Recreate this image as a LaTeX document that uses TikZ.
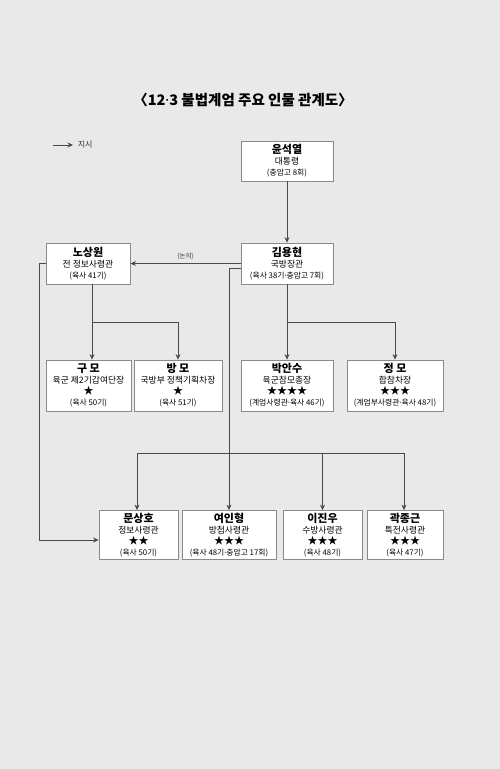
\documentclass[tikz,border=0pt]{standalone}
\usepackage{fontspec}
\setmainfont{Noto Sans CJK KR}
\newfontfamily\latinfont{Noto Sans}
\usetikzlibrary{arrows.meta,positioning,calc}
\definecolor{bgpaper}{HTML}{E9E9E9}
\definecolor{lineclr}{HTML}{4A4A4A}
\definecolor{boxline}{HTML}{8A8A8A}

\begin{document}
\begin{tikzpicture}[
  x=1pt,y=-1pt,
  >={Stealth[length=5.5pt,width=5pt]},
  person/.style={draw=boxline, line width=0.8pt, fill=white, inner sep=0pt, align=center, font=\fontsize{7.8}{11}\selectfont},
  link/.style={->, draw=lineclr, line width=0.85pt},
  wire/.style={draw=lineclr, line width=0.85pt},
  note/.style={font=\fontsize{6.5}{8}\selectfont, text=black!80}
]
\newcommand{\pname}[1]{{\fontsize{11}{11}\selectfont\bfseries #1}}
\newcommand{\prole}[1]{{\fontsize{8.8}{11}\selectfont #1}}
\newcommand{\pstar}[1]{{\fontsize{10}{11}\selectfont #1}}
\newcommand{\dotsep}{{\latinfont ·}}

% Background
\fill[bgpaper] (0,0) rectangle (500,769);
\useasboundingbox (0,0) rectangle (500,769);

% Title and legend
\node[font=\fontsize{14.5}{17}\selectfont\bfseries] (title) at (243,100) {〈12\dotsep 3 불법계엄 주요 인물 관계도〉};
\coordinate (lgA) at (53,145);
\coordinate (lgB) at (73,145);
\draw[link] (lgA) -- (lgB) node[right, note, font=\fontsize{8}{9}\selectfont, xshift=1pt] {지시};

% ================= Top rows =================
\node[person, minimum width=92pt, minimum height=40pt] (ysy) at (287,161)
  {\pname{윤석열}\\\prole{대통령}\\(충암고 8회)};
\node[person, minimum width=92pt, minimum height=41pt] (kyh) at (287,263.5)
  {\pname{김용현}\\\prole{국방장관}\\(육사 38기\dotsep 충암고 7회)};
\node[person, minimum width=84pt, minimum height=41pt] (nsw) at (88,263.5)
  {\pname{노상원}\\\prole{전 정보사령관}\\(육사 41기)};

\draw[link] (ysy) -- (kyh);
\draw[link] (kyh.west) -- node[note, above, pos=0.5] {(논의)} (nsw.east);

% ================= Middle row =================
\node[person, minimum width=85pt, minimum height=51pt] (gu) at (88.5,385.5)
  {\pname{구 모}\\\prole{육군 제2기갑여단장}\\\pstar{★}\\(육사 50기)};
\node[person, minimum width=88pt, minimum height=51pt] (bang) at (178,385.5)
  {\pname{방 모}\\\prole{국방부 정책기획차장}\\\pstar{★}\\(육사 51기)};
\node[person, minimum width=92pt, minimum height=51pt] (pas) at (287,385.5)
  {\pname{박안수}\\\prole{육군참모총장}\\\pstar{★★★★}\\(계엄사령관\dotsep 육사 46기)};
\node[person, minimum width=96pt, minimum height=51pt] (jung) at (395,385.5)
  {\pname{정 모}\\\prole{합참차장}\\\pstar{★★★}\\(계엄부사령관\dotsep 육사 48기)};

\coordinate (nswFork) at (92,322);
\coordinate (kyhFork) at (287,322);
\draw[link] (nsw.south -| nswFork) -- (gu.north -| nswFork);
\draw[link] (nswFork) -| (bang.north);
\draw[link] (kyh) -- (pas);
\draw[link] (kyhFork) -| (jung.north);

% ================= Bottom row =================
\node[person, minimum width=79pt, minimum height=49pt] (msh) at (138.5,535)
  {\pname{문상호}\\\prole{정보사령관}\\\pstar{★★}\\(육사 50기)};
\node[person, minimum width=94pt, minimum height=49pt] (yih) at (229,535)
  {\pname{여인형}\\\prole{방첩사령관}\\\pstar{★★★}\\(육사 48기\dotsep 충암고 17회)};
\node[person, minimum width=79pt, minimum height=49pt] (ljw) at (322.5,535)
  {\pname{이진우}\\\prole{수방사령관}\\\pstar{★★★}\\(육사 48기)};
\node[person, minimum width=76pt, minimum height=49pt] (kjg) at (405,535)
  {\pname{곽종근}\\\prole{특전사령관}\\\pstar{★★★}\\(육사 47기)};

\coordinate (kyhOut) at ($(kyh.west)+(0,4.5)$);
\coordinate (mainDown) at (229,268);
\coordinate (busL) at (137,453);
\coordinate (busR) at (404,453);
\draw[wire] (kyhOut) -- (mainDown);
\draw[link] (mainDown) -- (yih.north);
\draw[wire] (busL) -- (busR);
\draw[link] (busL) -- (msh.north -| busL);
\draw[link] (ljw.north |- busL) -- (ljw.north);
\draw[link] (busR) -- (kjg.north -| busR);

% 노상원 -> 문상호
\coordinate (nswBend) at (39,263.5);
\draw[link] (nsw.west) -- (nswBend) |- ($(msh.west)+(0,5)$);

\end{tikzpicture}
\end{document}
